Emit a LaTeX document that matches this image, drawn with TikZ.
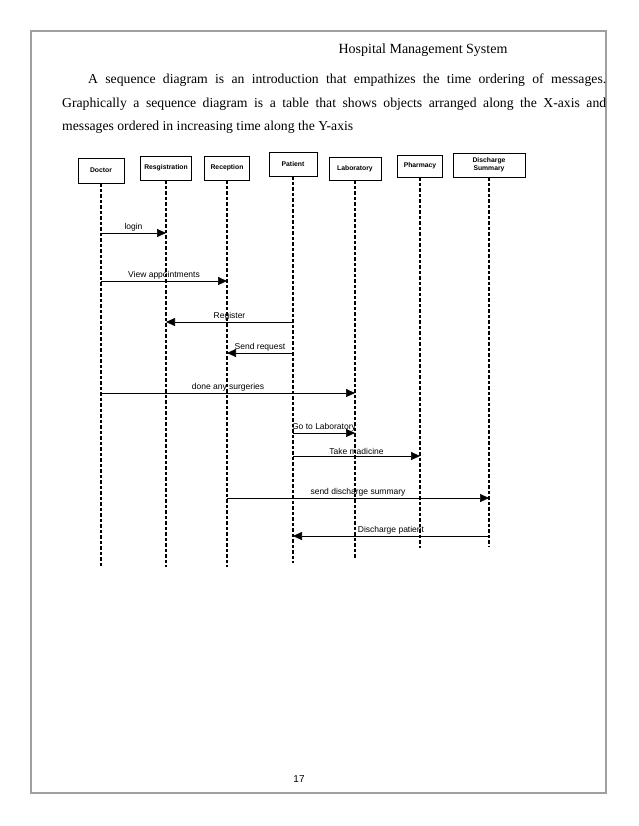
\documentclass[tikz,border=0pt]{standalone}
\usepackage{fontspec}
\setmainfont{Liberation Serif}
\newfontfamily\arialfont{Liberation Sans}
\usetikzlibrary{arrows.meta}
\tikzset{
  objbox/.style={draw, line width=0.8pt, align=center, inner sep=1pt,
    font=\arialfont\bfseries\fontsize{6.8}{8}\selectfont},
  lifeline/.style={line width=1.6pt, dash pattern=on 3.5pt off 2pt},
  msg/.style={line width=0.7pt, -{Triangle[length=9pt,width=8pt]}},
  msglabel/.style={midway, above=1pt, inner sep=0pt, font=\arialfont\fontsize{8.5}{9}\selectfont},
  bodytext/.style={anchor=base west, inner sep=0pt, font=\fontsize{13.7}{15}\selectfont}
}
\begin{document}
\begin{tikzpicture}[x=1pt, y=-1pt]
  \useasboundingbox (0,0) rectangle (638,826);
  % Page frame
  \draw[gray!75, line width=1.3pt] (31,31) rectangle (606,793);
  % Header and text
  \node[bodytext, anchor=base, font=\fontsize{14}{15}\selectfont] (title) at (423,54) {Hospital Management System};
  \node[bodytext] (line1) at (88,84) {\makebox[518pt][s]{A sequence diagram is an introduction that empathizes the time ordering of messages.}};
  \node[bodytext] (line2) at (62,108) {\makebox[544pt][s]{Graphically a sequence diagram is a table that shows objects arranged along the X-axis and}};
  \node[bodytext] (line3) at (62,131) {messages ordered in increasing time along the Y-axis};

  % Objects
  \node[objbox, minimum width=46pt, minimum height=25pt] (doctor) at (101,170.5) {Doctor};
  \node[objbox, minimum width=51pt, minimum height=24pt] (regis) at (166,168) {Resgistration};
  \node[objbox, minimum width=45pt, minimum height=24pt] (recep) at (227,168) {Reception};
  \node[objbox, minimum width=48pt, minimum height=24pt] (patient) at (293,164) {Patient};
  \node[objbox, minimum width=52pt, minimum height=23pt] (lab) at (355,168.5) {Laboratory};
  \node[objbox, minimum width=45pt, minimum height=22pt] (pharm) at (420,166) {Pharmacy};
  \node[objbox, minimum width=72pt, minimum height=24pt] (disch) at (489,165) {Discharge\\Summary};

  % Lifeline ends
  \coordinate (doctorend) at (101,567);
  \coordinate (regisend) at (166,567);
  \coordinate (recepend) at (227,567);
  \coordinate (patientend) at (293,563);
  \coordinate (labend) at (355,559);
  \coordinate (pharmend) at (420,548);
  \coordinate (dischend) at (489,546);
  \foreach \obj in {doctor, regis, recep, patient, lab, pharm, disch}
    \draw[lifeline] (\obj.south) -- (\obj end);

  % Message rows
  \coordinate (m1) at (0,233);
  \coordinate (m2) at (0,281);
  \coordinate (m3) at (0,322);
  \coordinate (m4) at (0,353);
  \coordinate (m5) at (0,393);
  \coordinate (m6) at (0,433);
  \coordinate (m7) at (0,456);
  \coordinate (m8) at (0,498);
  \coordinate (m9) at (0,536);

  % Messages
  \draw[msg] (doctor |- m1) -- (regis |- m1) node[msglabel] {login};
  \draw[msg] (doctor |- m2) -- (recep |- m2) node[msglabel] {View appointments};
  \draw[msg] (patient |- m3) -- (regis |- m3) node[msglabel] {Register};
  \draw[msg] (patient |- m4) -- (recep |- m4) node[msglabel] {Send request};
  \draw[msg] (doctor |- m5) -- (lab |- m5) node[msglabel] {done any surgeries};
  \draw[msg] (patient |- m6) -- (lab |- m6) node[msglabel] {Go to Laboratory};
  \draw[msg] (patient |- m7) -- (pharm |- m7) node[msglabel] {Take madicine};
  \draw[msg] (recep |- m8) -- (disch |- m8) node[msglabel] {send discharge summary};
  \draw[msg] (disch |- m9) -- (patient |- m9) node[msglabel] {Discharge patient};

  % Page number
  \node[font=\arialfont\fontsize{10}{12}\selectfont] (pagenum) at (299,779) {17};
\end{tikzpicture}
\end{document}
